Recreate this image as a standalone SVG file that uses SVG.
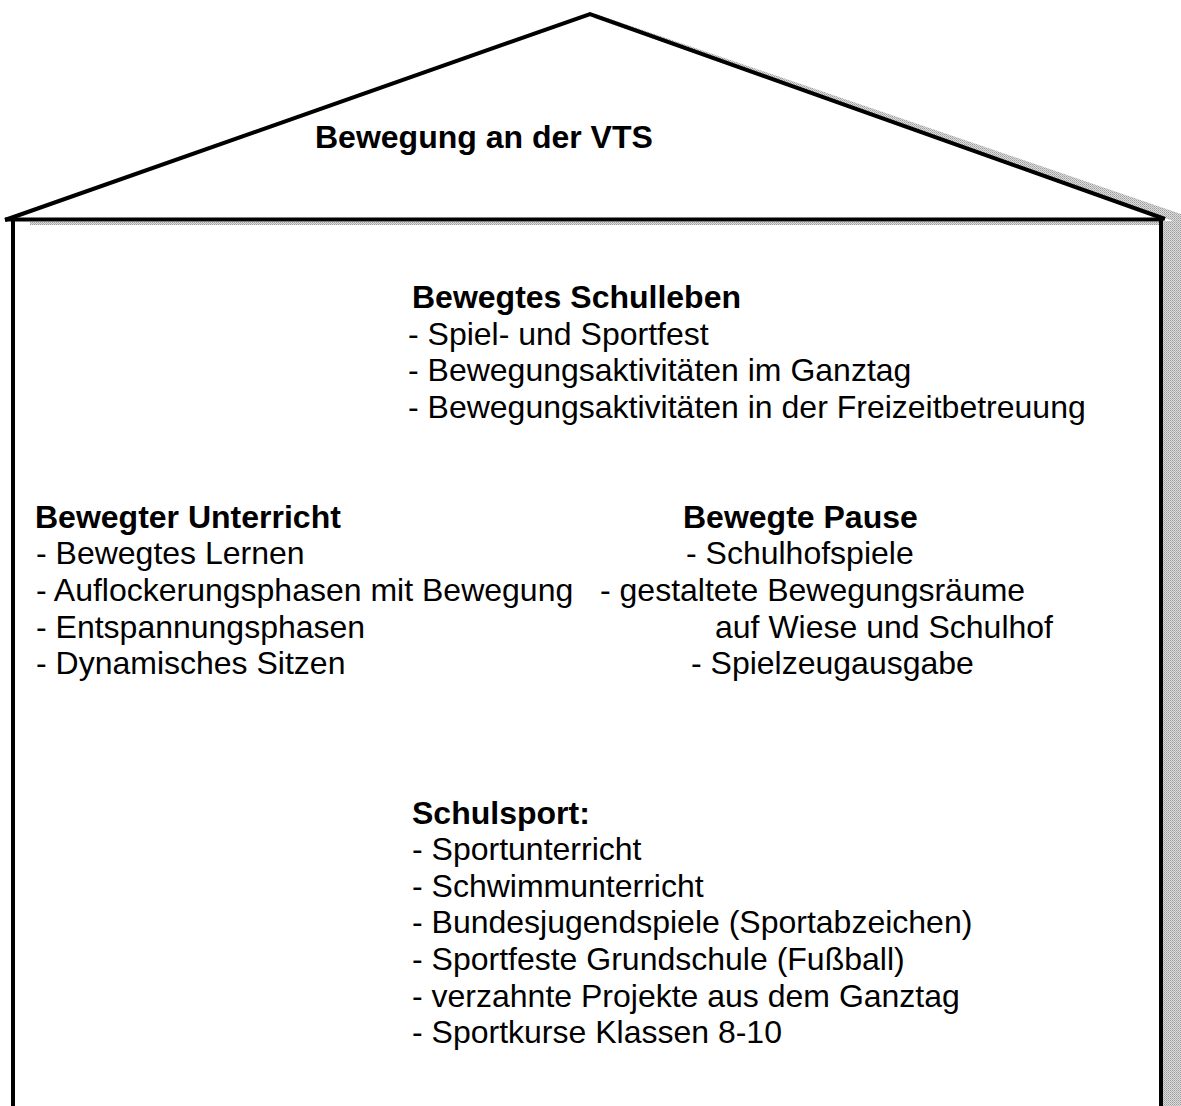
<svg xmlns="http://www.w3.org/2000/svg" width="1181" height="1106" viewBox="0 0 1181 1106">
  <style>
    text { font-family: "Liberation Sans", Arial, sans-serif; font-size: 32px; fill: #000; }
    .b { font-weight: bold; }
    .line { stroke: #000; stroke-width: 4; fill: none; stroke-linecap: butt; }
  </style>
  <defs>
    <pattern id="dither" width="2" height="2" patternUnits="userSpaceOnUse">
      <rect width="2" height="2" fill="#dcdcdc"/>
      <rect width="1" height="1" fill="#9c9c9c"/>
      <rect x="1" y="1" width="1" height="1" fill="#b4b4b4"/>
    </pattern>
  </defs>
  <rect width="1181" height="1106" fill="#fff"/>

  <g id="house">
    <!-- shadows -->
    <rect x="1163" y="221" width="18" height="885" fill="url(#dither)"/>
    <rect x="30" y="222" width="1133" height="3" fill="url(#dither)"/>
    <polygon points="596,14 1181,214 1181,222 1176,222 594,18" fill="url(#dither)"/>
    <!-- roof -->
    <polyline class="line" points="5,220 590,14 1165,219"/>
    <!-- walls -->
    <line class="line" x1="5" y1="219.5" x2="1163" y2="219.5"/>
    <line class="line" x1="13" y1="218" x2="13" y2="1106"/>
    <line class="line" x1="1161" y1="218" x2="1161" y2="1106"/>
  </g>

  <g id="title">
    <text class="b" x="315" y="148">Bewegung an der VTS</text>
  </g>

  <g id="schulleben">
    <text class="b" x="412" y="308">Bewegtes Schulleben</text>
    <text x="408" y="344.5">- Spiel- und Sportfest</text>
    <text x="408" y="381">- Bewegungsaktivitäten im Ganztag</text>
    <text x="408" y="417.5">- Bewegungsaktivitäten in der Freizeitbetreuung</text>
  </g>

  <g id="unterricht">
    <text class="b" x="35" y="527.5">Bewegter Unterricht</text>
    <text x="36" y="564">- Bewegtes Lernen</text>
    <text x="36" y="600.8">- Auflockerungsphasen mit Bewegung</text>
    <text x="36" y="637.5">- Entspannungsphasen</text>
    <text x="36" y="674">- Dynamisches Sitzen</text>
  </g>

  <g id="pause">
    <text class="b" x="683" y="527.5">Bewegte Pause</text>
    <text x="686" y="564">- Schulhofspiele</text>
    <text x="600" y="600.8">- gestaltete Bewegungsräume</text>
    <text x="715" y="637.5">auf Wiese und Schulhof</text>
    <text x="691" y="674">- Spielzeugausgabe</text>
  </g>

  <g id="schulsport">
    <text class="b" x="412" y="823.5">Schulsport:</text>
    <text x="412" y="860">- Sportunterricht</text>
    <text x="412" y="896.7">- Schwimmunterricht</text>
    <text x="412" y="933.4">- Bundesjugendspiele (Sportabzeichen)</text>
    <text x="412" y="970">- Sportfeste Grundschule (Fußball)</text>
    <text x="412" y="1006.7">- verzahnte Projekte aus dem Ganztag</text>
    <text x="412" y="1043.4">- Sportkurse Klassen 8-10</text>
  </g>

  <g id="connectors"/>
</svg>
